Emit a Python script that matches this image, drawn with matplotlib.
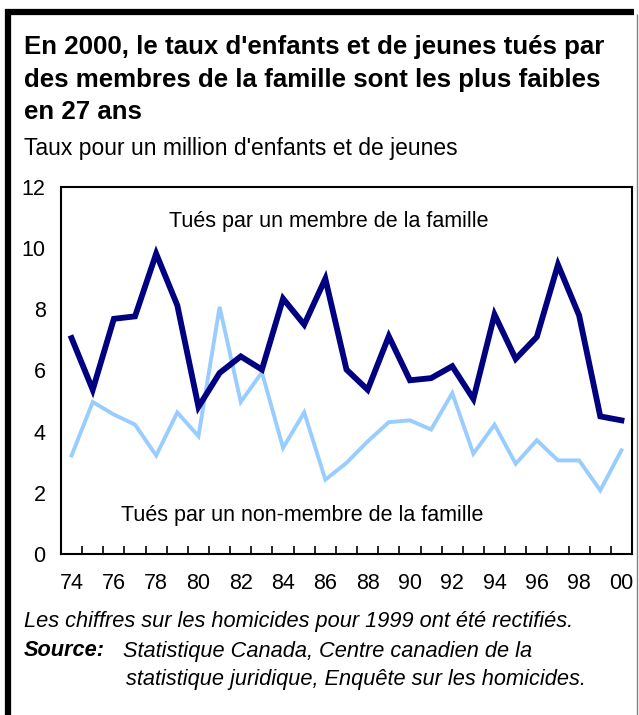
import matplotlib
matplotlib.use('Agg')
import matplotlib.pyplot as plt
from matplotlib.lines import Line2D
import numpy as np

plt.rcParams['font.family'] = ['Liberation Sans', 'DejaVu Sans']

# ── data ──
years = ['74', '75', '76', '77', '78', '79', '80', '81', '82', '83', '84', '85', '86',
         '87', '88', '89', '90', '91', '92', '93', '94', '95', '96', '97', '98', '99', '00']
family = [7.06, 5.37, 7.69, 7.77, 9.82, 8.13, 4.81, 5.92, 6.46, 6.03, 8.35, 7.50, 9.00,
          6.03, 5.37, 7.12, 5.68, 5.75, 6.14, 5.07, 7.83, 6.38, 7.10, 9.46, 7.80, 4.50, 4.37]
non_family = [3.22, 4.97, 4.56, 4.23, 3.22, 4.63, 3.85, 8.08, 4.97, 5.94, 3.47, 4.63, 2.43,
              2.98, 3.68, 4.31, 4.37, 4.07, 5.26, 3.28, 4.23, 2.95, 3.72, 3.06, 3.06, 2.08, 3.39]

W, H = 639, 715
fig = plt.figure(figsize=(W / 100, H / 100), dpi=100)
ax = fig.add_axes([61 / W, 1 - 554 / H, (632 - 61) / W, (554 - 187) / H])

x = np.arange(len(years))
ax.plot(x, non_family, color='#99CCFF', linewidth=2.8, solid_joinstyle='miter')
ax.plot(x, family, color='#000080', linewidth=4.2, solid_joinstyle='miter')

ax.set_xlim(-0.5, len(years) - 0.5)
ax.set_ylim(0, 12)
ax.set_yticks(range(0, 13, 2))
ax.tick_params(axis='y', length=0, labelsize=15.5, pad=11)
ax.set_xticks(x[::2])
ax.set_xticklabels(years[::2])
ax.tick_params(axis='x', which='major', length=0, labelsize=15.5, pad=14)
ax.set_xticks(np.arange(0.5, len(years) - 1, 1), minor=True)
ax.tick_params(axis='x', which='minor', direction='in', length=6, width=1.2, color='black')
for s in ax.spines.values():
    s.set_linewidth(1.5)

ax.text(0.469, 0.905, 'Tués par un membre de la famille', transform=ax.transAxes,
        ha='center', va='center', fontsize=15.5)
ax.text(0.423, 0.105, 'Tués par un non-membre de la famille', transform=ax.transAxes,
        ha='center', va='center', fontsize=15.5)

# ── titles & notes ──
fig.text(24 / W, 1 - 47 / H, "En 2000, le taux d'enfants et de jeunes tués par",
         fontsize=18.6, fontweight='bold', va='center')
fig.text(24 / W, 1 - 80 / H, "des membres de la famille sont les plus faibles",
         fontsize=18.6, fontweight='bold', va='center')
fig.text(24 / W, 1 - 112 / H, "en 27 ans",
         fontsize=18.6, fontweight='bold', va='center')
fig.text(24 / W, 1 - 148 / H, "Taux pour un million d'enfants et de jeunes",
         fontsize=16.5, va='center')

fig.text(24 / W, 1 - 621 / H, "Les chiffres sur les homicides pour 1999 ont été rectifiés.",
         fontsize=15.7, style='italic', va='center')
fig.text(24 / W, 1 - 651 / H, "Source:", fontsize=15.7, style='italic',
         fontweight='bold', va='center')
fig.text(123 / W, 1 - 651 / H, "Statistique Canada, Centre canadien de la",
         fontsize=15.7, style='italic', va='center')
fig.text(126 / W, 1 - 680 / H, "statistique juridique, Enquête sur les homicides.",
         fontsize=15.7, style='italic', va='center')

# ── frame ──
fig.add_artist(Line2D([8 / W, 8 / W], [1 - 9 / H, 0], color='black', linewidth=4.5,
                      transform=fig.transFigure, solid_capstyle='butt'))
fig.add_artist(Line2D([5 / W, 634 / W], [1 - 12 / H, 1 - 12 / H], color='black',
                      linewidth=4.5, transform=fig.transFigure, solid_capstyle='butt'))
fig.add_artist(Line2D([637 / W, 637 / W], [1 - 14 / H, 0], color='#808080', linewidth=1,
                      transform=fig.transFigure, solid_capstyle='butt'))

fig.savefig('out.png', dpi=100)
